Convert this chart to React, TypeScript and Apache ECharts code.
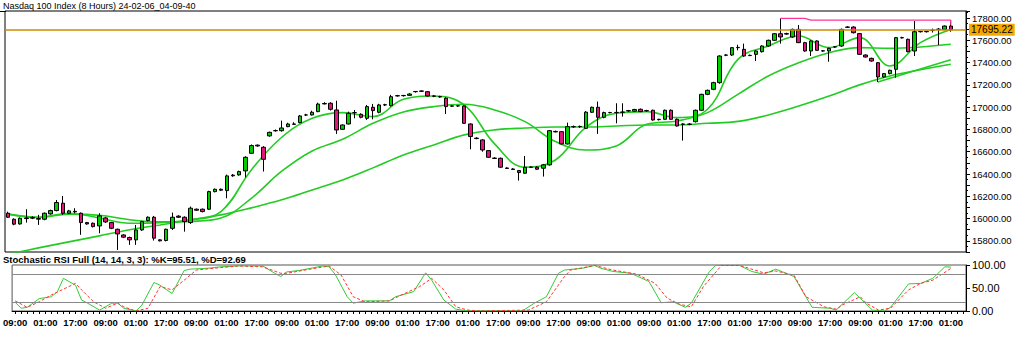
import React, { useEffect, useRef } from "react";
import * as echarts from "echarts";

const tickLabels = ["09:00","01:00","17:00","09:00","01:00","17:00","09:00","01:00","17:00","09:00","01:00","17:00","09:00","01:00","17:00","01:00","17:00","09:00","17:00","09:00","01:00","09:00","01:00","17:00","01:00","17:00","09:00","17:00","09:00","01:00","17:00","01:00"];

const open = [16048,15994,15952,16005,16010,16000,15994,16042,16072,16138,16048,16065,16048,15964,15958,15934,16006,15964,15904,15853,15830,15809,15898,15982,16012,15809,15803,15913,16022,16012,15964,16084,16084,16084,16242,16263,16251,16390,16392,16428,16586,16659,16640,16742,16790,16789,16825,16849,16861,16930,16930,16960,17033,17035,16975,16801,16849,16951,16936,16900,16999,16954,17020,17014,17103,17103,17106,17139,17145,17139,17100,17094,17080,17011,17011,17011,16849,16722,16706,16610,16543,16541,16454,16445,16431,16407,16461,16461,16452,16482,16782,16780,16670,16825,16825,16810,16954,16999,16909,16951,16951,16954,16966,16964,16981,16969,16972,16888,16891,16972,16891,16846,16846,16870,16972,17115,17160,17220,17466,17468,17534,17519,17465,17474,17498,17549,17600,17659,17656,17630,17698,17579,17504,17594,17504,17504,17540,17549,17719,17719,17660,17468,17438,17399,17271,17301,17340,17624,17609,17504,17677,17677,17689,17698,17698,17728];
const high = [16062,16002,16010,16084,16020,16033,16055,16080,16167,16203,16078,16093,16055,15970,15965,16048,16015,15970,15910,15860,15838,15943,15980,16020,16024,15815,15910,16054,16030,16020,16108,16090,16090,16250,16270,16270,16395,16400,16430,16560,16665,16665,16650,16780,16800,16879,16860,16865,16930,16940,16968,17040,17045,17045,17058,16845,16960,16975,16945,17020,17029,17030,17030,17110,17110,17110,17125,17145,17150,17145,17108,17102,17090,17018,17018,17020,16855,16730,16712,16615,16550,16548,16460,16452,16436,16562,16468,16470,16490,16795,16790,16786,16861,16835,16835,16965,17005,17050,16960,16958,17035,17035,16975,16985,16988,16976,16978,16895,16978,16980,16898,16855,16855,16978,17120,17158,17228,17465,17475,17540,17560,17570,17472,17510,17555,17606,17665,17797,17668,17705,17737,17586,17600,17600,17512,17534,17548,17705,17726,17726,17666,17474,17444,17405,17306,17336,17630,17632,17615,17773,17684,17684,17705,17710,17733,17773];
const low = [16005,15940,15945,15964,15995,15943,15985,16035,16065,16033,16040,16048,15854,15945,15920,15868,15960,15905,15719,15825,15764,15764,15890,15975,15803,15795,15795,15898,16005,15883,15952,16070,16055,16078,16235,16248,16182,16375,16385,16370,16580,16645,16422,16735,16780,16780,16820,16840,16855,16920,16925,16955,17025,16970,16760,16795,16845,16900,16900,16885,16891,16945,17010,17005,17095,17095,17100,17130,17138,17095,17090,17085,16939,17004,17004,16850,16622,16712,16600,16545,16535,16455,16445,16436,16341,16400,16455,16438,16377,16475,16774,16665,16665,16815,16815,16805,16948,16760,16900,16944,16855,16915,16958,16958,16955,16960,16878,16880,16885,16885,16825,16700,16838,16862,16965,17108,17152,17210,17458,17460,17510,17452,17458,17414,17490,17542,17594,17570,17650,17622,17575,17498,17459,17505,17498,17408,17532,17542,17712,17662,17468,17445,17408,17225,17265,17295,17265,17617,17492,17459,17670,17670,17670,17558,17692,17677];
const close = [16012,15950,16003,16000,16004,15995,16048,16072,16144,16048,16069,16060,15964,15952,15928,16024,15970,15913,15862,15833,15809,15898,15973,16012,15824,15800,15904,16012,16012,15973,16093,16075,16063,16242,16263,16255,16383,16384,16422,16550,16655,16652,16532,16774,16788,16813,16849,16846,16921,16930,16954,17028,17029,16981,16795,16840,16945,16951,16909,17005,16969,17020,17022,17094,17101,17105,17118,17141,17143,17100,17098,17092,17005,17009,17012,16855,16736,16718,16616,16550,16540,16461,16450,16441,16413,16461,16462,16443,16482,16789,16778,16670,16825,16824,16827,16955,16999,16909,16951,16952,16953,16956,16969,16979,16960,16967,16885,16891,16972,16891,16831,16849,16848,16972,17115,17151,17220,17459,17468,17534,17536,17459,17463,17504,17549,17600,17659,17630,17660,17698,17579,17504,17594,17510,17506,17528,17542,17698,17717,17668,17474,17450,17414,17271,17301,17331,17624,17622,17498,17677,17679,17680,17690,17700,17728,17695.22];

// moving averages read every 5 bars (bars 0,5,10,...,155)
const maFast = [16040,16012,16048,16005,15958,15964,15988,16063,16437,16730,16900,16951,16915,17070,17100,17020,16670,16461,16526,16819,16945,16960,16906,16981,17429,17549,17639,17534,17624,17369,17579,17698];
const maMid = [16040,16010,16040,16030,15990,15970,15975,16005,16182,16425,16607,16712,16855,16957,17005,17026,16975,16870,16691,16616,16652,16846,16876,16951,17115,17280,17399,17489,17534,17528,17540,17564];
const maSlow = [15680,15737,15791,15845,15899,15943,15988,16033,16096,16168,16257,16347,16455,16571,16661,16751,16796,16813,16822,16822,16831,16840,16840,16855,16872,16930,17010,17100,17200,17280,17335,17385];

const resistance = [[127,17797],[131,17797],[132,17782],[155,17782],[155,17740]];
const trend = [[143,17225],[155,17425]];
const lastPrice = 17695.22;

const stochK = [[0,19],[1,6],[2,8],[4,27],[6,31],[7,42],[8,71],[10,56],[11,24],[12,17],[14,2],[16,17],[17,17],[18,6],[20,0],[21,13],[23,62],[24,56],[26,38],[28,88],[29,91],[32,93],[34,96],[37,98],[41,98],[43,82],[44,75],[45,85],[47,88],[49,93],[51,98],[52,96],[53,80],[55,31],[56,17],[58,22],[62,22],[63,31],[66,42],[68,83],[69,67],[71,24],[73,4],[75,0],[84,0],[86,17],[88,31],[90,82],[91,89],[94,93],[96,99],[97,93],[99,86],[102,82],[105,64],[107,18],[109,20],[111,8],[112,17],[115,86],[116,99],[120,99],[122,86],[124,80],[126,91],[129,75],[132,8],[135,6],[136,2],[139,40],[142,2],[144,0],[145,8],[148,59],[150,60],[152,71],[154,96],[155,95.51]];
const stochD = [[0,22],[2,8],[4,20],[6,35],[10,60],[11,46],[13,20],[15,6],[17,17],[18,9],[20,0],[22,6],[24,53],[26,46],[28,67],[30,89],[33,93],[37,98],[41,96],[44,82],[45,82],[48,89],[52,98],[54,78],[56,31],[58,20],[62,22],[64,35],[67,53],[69,71],[71,46],[73,9],[75,2],[77,0],[85,2],[88,20],[91,75],[92,89],[96,99],[99,89],[103,80],[106,60],[108,28],[110,15],[112,9],[114,53],[117,99],[120,99],[124,83],[126,87],[129,78],[131,31],[134,9],[136,4],[137,13],[140,31],[141,17],[143,2],[145,6],[148,46],[150,60],[152,67],[155,92.69]];

const SLOTS = 158;
const FONT = "Liberation Sans";

export default function App() {
  const ref = useRef<HTMLDivElement>(null);
  useEffect(() => {
    document.body.style.margin = "0";
    if (!ref.current) return;
    const chart = echarts.init(ref.current, null, { renderer: "svg" });
    const cats = Array.from({ length: SLOTS }, (_, i) => String(i));
    const candles = open.map((o, i) => [o, close[i], low[i], high[i]]);
    const every5 = (arr: number[]) => arr.map((v, k) => [k * 5, v]);
    const maLine = (name: string, arr: number[]) => ({
      name, type: "line", xAxisIndex: 0, yAxisIndex: 0, data: every5(arr),
      smooth: 0.4, showSymbol: false, z: 2,
      lineStyle: { color: "#22cc22", width: 1.6 },
    });
    chart.setOption({
      animation: false,
      backgroundColor: "#fff",
      textStyle: { fontFamily: FONT },
      title: [
        { text: "Nasdaq 100 Index (8 Hours) 24-02-06_04-09-40", left: 3, top: 1, padding: 0,
          textStyle: { fontSize: 9, fontWeight: "normal", color: "#000", fontFamily: FONT } },
        { text: "Stochastic RSI Full (14, 14, 3, 3): %K=95.51, %D=92.69", left: 3, top: 254, padding: 0,
          textStyle: { fontSize: 9.5, fontWeight: "bold", color: "#000", fontFamily: FONT } },
      ],
      graphic: [
        { type: "line", shape: { x1: 0, y1: 11.5, x2: 6, y2: 11.5 }, style: { stroke: "#000", lineWidth: 1 } },
      ],
      grid: [
        { left: 5, top: 11, width: 961, height: 241, show: true, borderColor: "#000", borderWidth: 1 },
        { left: 5, top: 265, width: 961, height: 46, show: true, borderColor: "#555", borderWidth: 1 },
      ],
      xAxis: [
        { type: "category", gridIndex: 0, data: cats, boundaryGap: true,
          axisLine: { show: false }, axisTick: { show: false }, axisLabel: { show: false } },
        { type: "category", gridIndex: 1, data: cats, boundaryGap: true,
          axisLine: { show: true, lineStyle: { color: "#000" } },
          axisTick: { show: true, interval: 0, alignWithLabel: true, length: 3, lineStyle: { color: "#000" } },
          axisLabel: { interval: (i: number) => i % 5 === 0, formatter: (_v: string, i: number) => tickLabels[i / 5] || "",
            fontSize: 9.5, fontWeight: "bold", color: "#000", margin: 6, fontFamily: FONT } },
      ],
      yAxis: [
        { type: "value", gridIndex: 0, position: "right", min: 15700, max: 17863, interval: 100,
          axisLine: { show: true, lineStyle: { color: "#000" } },
          axisTick: { show: true, length: 4, lineStyle: { color: "#000" } },
          minorTick: { show: true, splitNumber: 2, length: 2, lineStyle: { color: "#000" } },
          splitLine: { show: false },
          axisLabel: { formatter: (v: number) => (v % 200 === 0 ? v.toFixed(2) : ""), fontSize: 9.5, color: "#000", margin: 6, fontFamily: FONT } },
        { type: "value", gridIndex: 1, position: "right", min: 0, max: 100, interval: 50,
          axisLine: { show: true, lineStyle: { color: "#000" } },
          axisTick: { show: true, length: 4, lineStyle: { color: "#000" } },
          splitLine: { show: false },
          axisLabel: { formatter: (v: number) => v.toFixed(2), fontSize: 11, color: "#000", margin: 6, fontFamily: FONT } },
      ],
      series: [
        { name: "last price", type: "line", xAxisIndex: 0, yAxisIndex: 0, data: [], z: 1,
          markLine: { symbol: "none", silent: true,
            lineStyle: { color: "#cc8b00", width: 1.5, type: "solid" },
            label: { show: true, position: "end", formatter: lastPrice.toFixed(2), backgroundColor: "#f5a800", color: "#000",
              padding: [1, 2], fontSize: 10, distance: 3, fontFamily: FONT },
            data: [{ yAxis: lastPrice }] } },
        maLine("MA slow", maSlow),
        maLine("MA mid", maMid),
        maLine("MA fast", maFast),
        { name: "trend", type: "line", xAxisIndex: 0, yAxisIndex: 0, data: trend, showSymbol: false, z: 2,
          lineStyle: { color: "#22cc22", width: 1.6 } },
        { name: "Nasdaq 100", type: "candlestick", xAxisIndex: 0, yAxisIndex: 0, data: candles, barWidth: 4, z: 3,
          itemStyle: { color: "#00cc00", color0: "#e0167a", borderColor: "#000", borderColor0: "#000", borderColorDoji: "#000", borderWidth: 1 } },
        { name: "resistance", type: "line", xAxisIndex: 0, yAxisIndex: 0, data: resistance, showSymbol: false, z: 4,
          lineStyle: { color: "#ff3399", width: 1.3 } },
        { name: "%K", type: "line", xAxisIndex: 1, yAxisIndex: 1, data: stochK, showSymbol: false, z: 3,
          lineStyle: { color: "#33cc33", width: 1 },
          markLine: { symbol: "none", silent: true, label: { show: false },
            lineStyle: { color: "#888", width: 1, type: "solid" }, data: [{ yAxis: 20 }, { yAxis: 80 }] } },
        { name: "%D", type: "line", xAxisIndex: 1, yAxisIndex: 1, data: stochD, showSymbol: false, z: 3,
          lineStyle: { color: "#ff3333", width: 1, type: [3, 2] } },
      ],
    });
    return () => chart.dispose();
  }, []);
  return <div ref={ref} style={{ width: 1024, height: 345 }} />;
}
